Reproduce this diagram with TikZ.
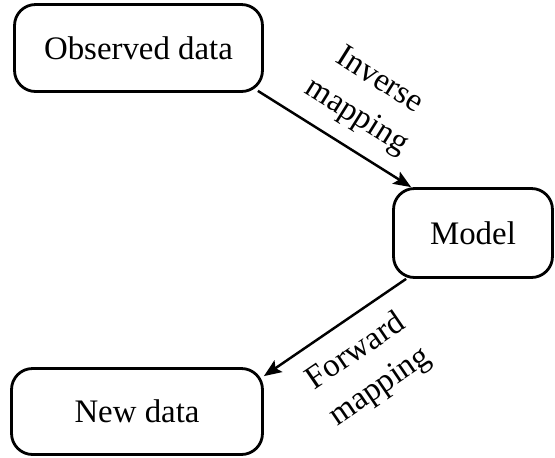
\documentclass[tikz,border=0pt]{standalone}
\usepackage{fontspec}
\setmainfont{Liberation Serif}
\usetikzlibrary{positioning,calc,arrows.meta}
\tikzset{
	blok/.style={draw, rounded corners=0.42cm, line width=1.6pt, align=center,
		font=\fontsize{18.7}{22}\selectfont},
	pijl/.style={line width=1.4pt, -{Stealth[length=10pt,width=8pt,inset=2pt]}},
	tekst/.style={align=center, font=\fontsize{18.7}{24}\selectfont}
}
\begin{document}
\begin{tikzpicture}[x=0.02cm,y=-0.02cm]
					\useasboundingbox (0,0) rectangle (555,457);
					%BOXES
					\node[blok, minimum width=4.96cm, minimum height=1.74cm] (obs) at (138.5,48) {Observed data};
					\node[blok, minimum width=3.18cm, minimum height=1.78cm] (model) at (473,233) {Model};
					\node[blok, minimum width=5.02cm, minimum height=1.72cm] (new) at (137,411.5) {New data};
					%ARROWS
					\draw[pijl] ($(obs.south east)+(-6,-2)$) -- node[tekst, sloped, above, yshift=5pt, xshift=4pt]{Inverse\\mapping} ($(model.north west)+(19,0)$);
					\draw[pijl] ($(model.south west)+(14,0)$) -- node[tekst, sloped, below, yshift=-6pt, xshift=2pt]{Forward\\mapping} ($(new.north east)+(0,9)$);
\end{tikzpicture}
\end{document}
